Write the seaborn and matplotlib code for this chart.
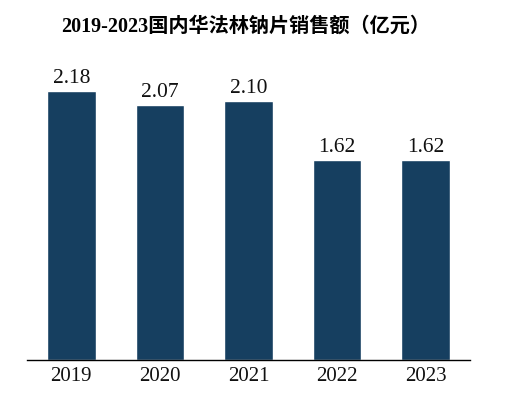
import matplotlib
matplotlib.use("Agg")
import matplotlib.pyplot as plt
import seaborn as sns
import pandas as pd

years = ["2019", "2020", "2021", "2022", "2023"]
sales = [2.18, 2.07, 2.10, 1.62, 1.62]
title = "2019-2023国内华法林钠片销售额（亿元）"

sns.set_theme(style="white")
plt.rcParams['font.family'] = ['Liberation Serif', 'Noto Sans CJK SC']

df = pd.DataFrame({"year": years, "sales": sales})

fig = plt.figure(figsize=(5.08, 3.96), dpi=100)
ax = fig.add_axes([27/508, 36/396, 443/508, 320/396])
sns.barplot(data=df, x="year", y="sales", color="#163F60", width=0.55,
            saturation=1, ax=ax)
ax.set_xlim(-0.5, 4.5)
ax.set_ylim(0, 320/123.4)
for i, v in enumerate(sales):
    ax.annotate(f"{v:.2f}", xy=(i, v), xytext=(0, 5.5), textcoords="offset points",
                ha="center", va="baseline", fontsize=15.5, color="#111111")
for s in ["top", "right", "left"]:
    ax.spines[s].set_visible(False)
ax.spines["bottom"].set_color("black")
ax.spines["bottom"].set_linewidth(1.0)
ax.set_yticks([])
ax.set_xlabel("")
ax.set_ylabel("")
ax.tick_params(axis="x", length=0, labelsize=15, pad=5, colors="#111111")
fig.text(0.483, 0.932, title, ha="center", va="center", fontsize=14.5,
         fontweight="bold", color="black")
fig.savefig("out.png", dpi=100)
